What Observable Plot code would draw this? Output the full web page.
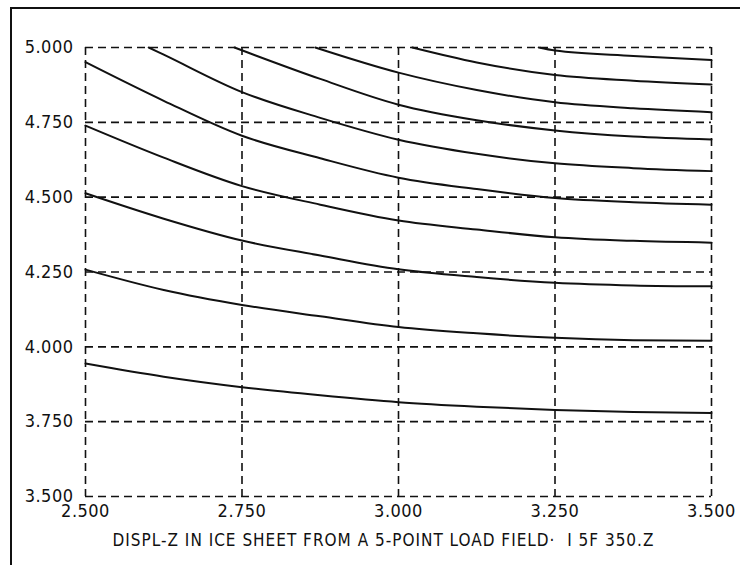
<!DOCTYPE html>
<html>
<head>
<meta charset="utf-8">
<script src="https://cdn.jsdelivr.net/npm/d3@7"></script>
<script src="https://cdn.jsdelivr.net/npm/@observablehq/plot@0.6"></script>
<style>
  body { margin: 0; background: #fff; }
  #wrap { position: relative; width: 740px; height: 565px; overflow: hidden; }
  #border { position: absolute; left: 10px; top: 7px; right: -4px; bottom: -4px;
            border-top: 2px solid #111; border-left: 2px solid #111; pointer-events: none; }
  #wrap svg { position: absolute; left: 0; top: 0; }
</style>
</head>
<body>
<div id="wrap"><div id="border"></div></div>
<script>
// Axis ticks
const xTicks = [2.5, 2.75, 3.0, 3.25, 3.5];
const yTicks = [3.5, 3.75, 4.0, 4.25, 4.5, 4.75, 5.0];
const caption = "DISPL-Z IN ICE SHEET FROM A 5-POINT LOAD FIELD·  I 5F 350.Z";

// Contour curves (x positions and displacement values)
const xFull = [2.5, 2.625, 2.75, 2.875, 3.0, 3.125, 3.25, 3.375, 3.5];
const c1 = [3.944, 3.900, 3.865, 3.838, 3.815, 3.800, 3.789, 3.782, 3.779];
const c2 = [4.258, 4.190, 4.140, 4.102, 4.066, 4.045, 4.030, 4.022, 4.020];
const c3 = [4.513, 4.428, 4.355, 4.305, 4.259, 4.233, 4.214, 4.205, 4.202];
const c4 = [4.739, 4.632, 4.537, 4.475, 4.422, 4.392, 4.366, 4.354, 4.348];
const c5 = [4.951, 4.822, 4.705, 4.630, 4.565, 4.527, 4.497, 4.483, 4.475];

const c6x = [2.601, 2.625, 2.75, 2.875, 3.0, 3.125, 3.25, 3.375, 3.5];
const c6 = [5.000, 4.976, 4.851, 4.765, 4.692, 4.645, 4.613, 4.597, 4.587];
const c7x = [2.738, 2.875, 3.0, 3.125, 3.25, 3.375, 3.5];
const c7 = [5.000, 4.895, 4.809, 4.757, 4.723, 4.703, 4.693];
const c8x = [2.867, 3.0, 3.125, 3.25, 3.375, 3.5];
const c8 = [5.000, 4.916, 4.858, 4.817, 4.797, 4.784];
const c9x = [3.022, 3.125, 3.25, 3.375, 3.5];
const c9 = [5.000, 4.950, 4.908, 4.889, 4.876];
const c10x = [3.224, 3.25, 3.375, 3.5];
const c10 = [5.000, 4.990, 4.972, 4.958];

const curves = [
  [xFull, c1], [xFull, c2], [xFull, c3], [xFull, c4], [xFull, c5],
  [c6x, c6], [c7x, c7], [c8x, c8], [c9x, c9], [c10x, c10]
];
const rows = curves.flatMap(([xs, ys], i) => xs.map((x, j) => ({curve: i, x, y: ys[j]})));

const fmt = d3.format(".3f");
const font = "'DejaVu Sans Condensed', 'DejaVu Sans', sans-serif";

const chart = Plot.plot({
  width: 740,
  height: 565,
  marginLeft: 85,
  marginRight: 29,
  marginTop: 47,
  marginBottom: 69,
  style: {fontFamily: font, fontSize: "18px", color: "#111", background: "transparent", letterSpacing: "0.5px"},
  x: {domain: [2.5, 3.5], ticks: xTicks, tickFormat: fmt, tickSize: 0, tickPadding: 8, label: null},
  y: {domain: [3.5, 5.0], ticks: yTicks, tickFormat: fmt, tickSize: 0, tickPadding: 12, label: null},
  marks: [
    Plot.ruleX(xTicks, {stroke: "#111", strokeWidth: 1.6, strokeDasharray: "8,5"}),
    Plot.ruleY(yTicks, {stroke: "#111", strokeWidth: 1.6, strokeDasharray: "8,5"}),
    Plot.line(rows, {x: "x", y: "y", z: "curve", curve: "monotone-x", stroke: "#111", strokeWidth: 2}),
    Plot.text([caption], {text: d => d, frameAnchor: "bottom", dy: 49, dx: -15, fontSize: 17, fill: "#111"})
  ]
});
chart.querySelectorAll("text").forEach(t => { if (t.textContent === caption) t.style.letterSpacing = "1px"; });
document.getElementById("wrap").prepend(chart);
</script>
</body>
</html>
